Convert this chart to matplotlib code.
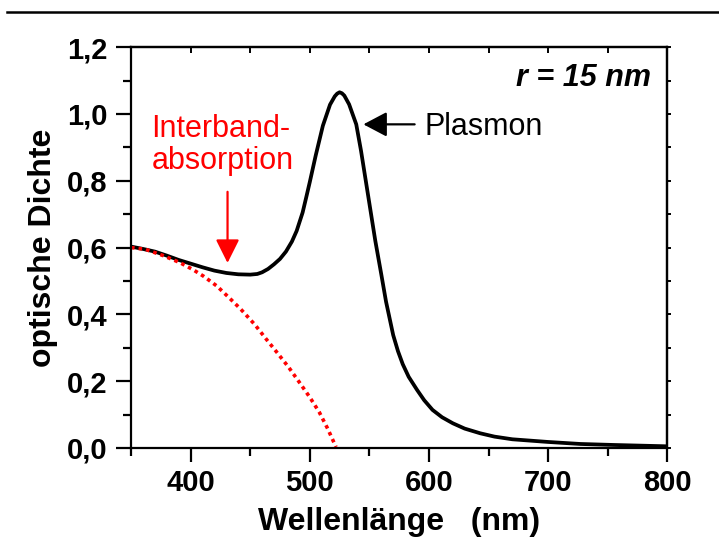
"""Optical density spectrum of gold nanoparticles (r = 15 nm)."""

import matplotlib

matplotlib.use("Agg")
import matplotlib.pyplot as plt
from matplotlib.lines import Line2D
from matplotlib.ticker import FixedLocator, MultipleLocator

# measured spectrum (black curve)
wavelength = [350, 360, 370, 380, 390, 400, 410, 420, 430, 440, 450, 456, 460,
              465, 470, 475, 480, 485, 489, 494, 497, 500, 505, 511, 517, 521,
              523, 525, 527, 529, 533, 539, 543, 547, 551, 555, 560, 564, 570,
              574, 578, 583, 590, 596, 603, 611, 620, 630, 643, 655, 670, 700,
              727, 755, 800]
optical_density = [0.603, 0.596, 0.588, 0.576, 0.563, 0.552, 0.541, 0.531, 0.524,
                   0.520, 0.519, 0.521, 0.526, 0.536, 0.550, 0.566, 0.588, 0.618,
                   0.650, 0.705, 0.750, 0.796, 0.876, 0.965, 1.028, 1.053, 1.061,
                   1.065, 1.062, 1.055, 1.029, 0.969, 0.890, 0.800, 0.710, 0.620,
                   0.520, 0.438, 0.338, 0.290, 0.251, 0.213, 0.174, 0.143, 0.114,
                   0.092, 0.074, 0.058, 0.044, 0.034, 0.026, 0.018, 0.012, 0.009,
                   0.005]

# interband absorption contribution (red dotted)
interband_wl = [350, 362, 377, 391, 402, 411, 422, 432, 442, 454, 463, 472.5,
                482, 491, 500, 508, 515, 522]
interband_od = [0.600, 0.595, 0.576, 0.555, 0.534, 0.514, 0.485, 0.451, 0.416,
                0.369, 0.328, 0.286, 0.243, 0.198, 0.152, 0.107, 0.058, 0.003]

x_ticks = [400, 500, 600, 700, 800]
y_ticks = [0.0, 0.2, 0.4, 0.6, 0.8, 1.0, 1.2]
y_tick_labels = ["0,0", "0,2", "0,4", "0,6", "0,8", "1,0", "1,2"]

plt.rcParams["font.family"] = ["Liberation Sans", "DejaVu Sans"]

fig = plt.figure(figsize=(7.19, 5.5), dpi=100)
ax = fig.add_axes([0.1822, 0.1855, 0.7459, 0.7287])

ax.plot(wavelength, optical_density, color="black", lw=2.7,
        solid_joinstyle="round", solid_capstyle="round")
ax.plot(interband_wl, interband_od, color="red", lw=2.6, linestyle=(0, (1, 1.1)))

ax.set_xlim(350, 800)
ax.set_ylim(0, 1.2)

ax.xaxis.set_major_locator(FixedLocator(x_ticks))
ax.xaxis.set_minor_locator(MultipleLocator(50))
ax.set_yticks(y_ticks, y_tick_labels)
ax.yaxis.set_minor_locator(MultipleLocator(0.1))

for side in ax.spines.values():
    side.set_linewidth(1.6)

ax.tick_params(axis="both", which="major", labelsize=21, width=1.6)
ax.tick_params(axis="both", which="minor", width=1.6)
ax.tick_params(axis="x", which="major", direction="out", length=10, pad=5)
ax.tick_params(axis="x", which="minor", direction="out", length=6)
ax.tick_params(axis="y", which="major", direction="out", length=11, pad=6)
ax.tick_params(axis="y", which="minor", direction="out", length=6)
for lbl in ax.get_xticklabels() + ax.get_yticklabels():
    lbl.set_fontweight("bold")

# top/right axis: unlabeled ticks
top = ax.secondary_xaxis("top")
top.xaxis.set_major_locator(MultipleLocator(50))
top.tick_params(direction="in", length=4, width=1.4, labeltop=False)
right = ax.secondary_yaxis("right")
right.yaxis.set_major_locator(MultipleLocator(0.1))
right.tick_params(direction="out", length=3, width=1.4, labelright=False)
top.spines["top"].set_linewidth(1.6)
right.spines["right"].set_linewidth(1.6)

ax.set_xlabel("Wellenlänge   (nm)", fontsize=23, fontweight="bold", labelpad=7)
ax.set_ylabel("optische Dichte", fontsize=23, fontweight="bold", labelpad=6)

ax.text(786, 1.084, "r = 15 nm", fontsize=22, fontweight="bold", style="italic",
        ha="right", va="baseline")

ax.text(367, 0.907, "Interband-\nabsorption", color="red", fontsize=22,
        ha="left", va="center", linespacing=1.05)
ax.annotate("", xy=(431, 0.554), xytext=(431, 0.767),
            arrowprops=dict(arrowstyle="-|>,head_length=0.72,head_width=0.36",
                            mutation_scale=20, color="red", lw=1.6,
                            shrinkA=0, shrinkB=0))

ax.annotate("", xy=(545, 0.969), xytext=(588, 0.969),
            arrowprops=dict(arrowstyle="-|>,head_length=0.72,head_width=0.38",
                            mutation_scale=20, color="black", lw=1.6,
                            shrinkA=0, shrinkB=0))
ax.text(596, 0.962, "Plasmon", fontsize=22, ha="left", va="center")

# rule across the top of the figure
fig.add_artist(Line2D([7 / 719, 1.0], [1 - 12 / 550, 1 - 12 / 550],
                      transform=fig.transFigure, color="black", lw=1.8))

fig.savefig("out.png", dpi=100)
